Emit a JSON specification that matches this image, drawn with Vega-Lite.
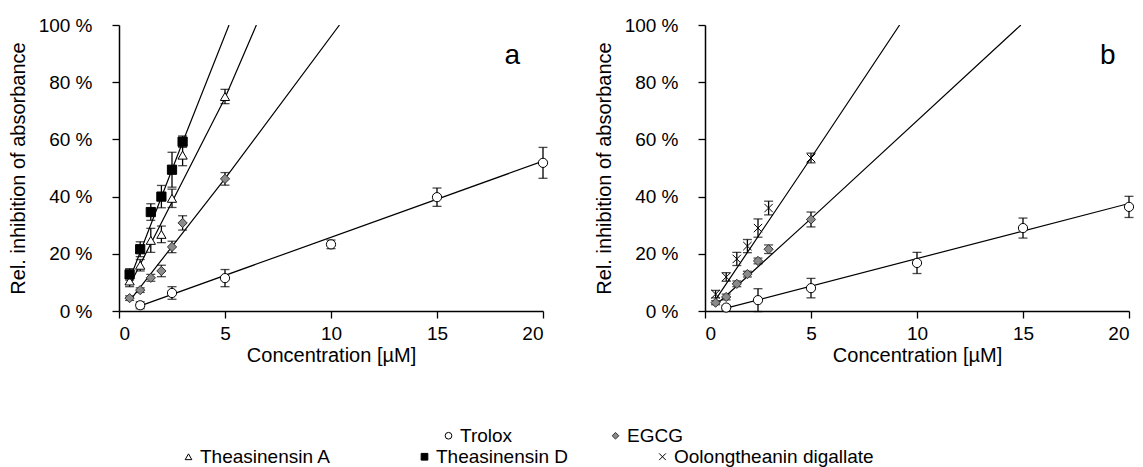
{
  "$schema": "https://vega.github.io/schema/vega-lite/v6.json",
  "background": "white",
  "padding": {"left": 8, "top": 16, "right": 5, "bottom": 0},
  "bounds": "flush",
  "spacing": 162,
  "config": {
    "font": "Liberation Sans",
    "view": {"stroke": null},
    "axis": {
      "grid": false,
      "domainColor": "black",
      "domainWidth": 1.5,
      "tickColor": "black",
      "tickWidth": 1.3,
      "tickSize": 7,
      "labelColor": "black",
      "titleColor": "black",
      "labelFontSize": 19,
      "titleFontSize": 20,
      "titleFontWeight": "normal",
      "labelFont": "Liberation Sans",
      "titleFont": "Liberation Sans"
    },
    "legend": {
      "labelFontSize": 19,
      "labelColor": "black",
      "labelFont": "Liberation Sans",
      "labelLimit": 400,
      "symbolStrokeColor": "black",
      "symbolStrokeWidth": 1,
      "symbolSize": 45,
      "labelOffset": 2,
      "padding": 0,
      "rowPadding": 0
    }
  },
  "datasets": {
    "pts_a": [
      {"compound": "Trolox", "x": 1, "y": 2, "err": 1.2},
      {"compound": "Trolox", "x": 2.5, "y": 6.3, "err": 2.2},
      {"compound": "Trolox", "x": 5, "y": 11.5, "err": 3},
      {"compound": "Trolox", "x": 10, "y": 23.3, "err": 1.5},
      {"compound": "Trolox", "x": 15, "y": 39.8, "err": 3.2},
      {"compound": "Trolox", "x": 20, "y": 51.8, "err": 5.4},
      {"compound": "EGCG", "x": 0.5, "y": 4.5, "err": 0.8},
      {"compound": "EGCG", "x": 1, "y": 7.3, "err": 0.8},
      {"compound": "EGCG", "x": 1.5, "y": 11.6, "err": 1.2},
      {"compound": "EGCG", "x": 2, "y": 14, "err": 2},
      {"compound": "EGCG", "x": 2.5, "y": 22.4, "err": 2},
      {"compound": "EGCG", "x": 3, "y": 30.8, "err": 2.5},
      {"compound": "EGCG", "x": 5, "y": 46.2, "err": 2.2},
      {"compound": "Theasinensin A", "x": 0.5, "y": 10.5, "err": 2},
      {"compound": "Theasinensin A", "x": 1, "y": 16, "err": 2},
      {"compound": "Theasinensin A", "x": 1.5, "y": 24.7, "err": 4.2},
      {"compound": "Theasinensin A", "x": 2, "y": 26.8, "err": 2.9},
      {"compound": "Theasinensin A", "x": 2.5, "y": 39.4, "err": 3.2},
      {"compound": "Theasinensin A", "x": 3, "y": 54.5, "err": 3.7},
      {"compound": "Theasinensin A", "x": 5, "y": 75, "err": 2.5},
      {"compound": "Theasinensin D", "x": 0.5, "y": 12.8, "err": 2},
      {"compound": "Theasinensin D", "x": 1, "y": 21.6, "err": 2.6},
      {"compound": "Theasinensin D", "x": 1.5, "y": 34.6, "err": 2.9},
      {"compound": "Theasinensin D", "x": 2, "y": 40, "err": 3.9},
      {"compound": "Theasinensin D", "x": 2.5, "y": 49.4, "err": 6.1},
      {"compound": "Theasinensin D", "x": 3, "y": 59.2, "err": 2}
    ],
    "pts_b": [
      {"compound": "Oolongtheanin digallate", "x": 0.5, "y": 5.9, "err": 1.3},
      {"compound": "Oolongtheanin digallate", "x": 1, "y": 11.9, "err": 1.5},
      {"compound": "Oolongtheanin digallate", "x": 1.5, "y": 18.2, "err": 2.3},
      {"compound": "Oolongtheanin digallate", "x": 2, "y": 22.7, "err": 2.3},
      {"compound": "Oolongtheanin digallate", "x": 2.5, "y": 29, "err": 3.2},
      {"compound": "Oolongtheanin digallate", "x": 3, "y": 36, "err": 2.4},
      {"compound": "Oolongtheanin digallate", "x": 5, "y": 53.5, "err": 1.7},
      {"compound": "EGCG", "x": 0.5, "y": 2.9, "err": 0.7},
      {"compound": "EGCG", "x": 1, "y": 4.9, "err": 1},
      {"compound": "EGCG", "x": 1.5, "y": 9.5, "err": 1},
      {"compound": "EGCG", "x": 2, "y": 12.9, "err": 1},
      {"compound": "EGCG", "x": 2.5, "y": 17.5, "err": 1},
      {"compound": "EGCG", "x": 3, "y": 21.6, "err": 1.5},
      {"compound": "EGCG", "x": 5, "y": 32, "err": 2.6},
      {"compound": "Trolox", "x": 1, "y": 1.2, "err": 0.8},
      {"compound": "Trolox", "x": 2.5, "y": 3.8, "err": 4},
      {"compound": "Trolox", "x": 5, "y": 8, "err": 3.4},
      {"compound": "Trolox", "x": 10, "y": 16.8, "err": 3.7},
      {"compound": "Trolox", "x": 15, "y": 29, "err": 3.5},
      {"compound": "Trolox", "x": 20, "y": 36.4, "err": 3.7}
    ],
    "lines_a": [
      {"compound": "Trolox", "x": 1, "y": 1.8},
      {"compound": "Trolox", "x": 20, "y": 52.4},
      {"compound": "EGCG", "x": 0.5, "y": 3.5},
      {"compound": "EGCG", "x": 5, "y": 46.3},
      {"compound": "EGCG", "x": 10.4, "y": 100},
      {"compound": "Theasinensin A", "x": 0.5, "y": 9},
      {"compound": "Theasinensin A", "x": 5, "y": 74.5},
      {"compound": "Theasinensin A", "x": 6.48, "y": 100},
      {"compound": "Theasinensin D", "x": 0.5, "y": 11},
      {"compound": "Theasinensin D", "x": 3, "y": 59},
      {"compound": "Theasinensin D", "x": 5.19, "y": 100}
    ],
    "lines_b": [
      {"compound": "Oolongtheanin digallate", "x": 0.5, "y": 4},
      {"compound": "Oolongtheanin digallate", "x": 5, "y": 53.5},
      {"compound": "Oolongtheanin digallate", "x": 9.18, "y": 100},
      {"compound": "EGCG", "x": 0.5, "y": 2},
      {"compound": "EGCG", "x": 5, "y": 32.3},
      {"compound": "EGCG", "x": 14.9, "y": 100},
      {"compound": "Trolox", "x": 1, "y": 1},
      {"compound": "Trolox", "x": 20, "y": 37.6}
    ]
  },
  "resolve": {"scale": {"shape": "independent", "fill": "independent", "stroke": "independent"}, "legend": {"shape": "independent", "fill": "independent", "stroke": "independent"}},
  "hconcat": [
    {
      "width": 424,
      "height": 286,
      "resolve": {"scale": {"shape": "independent", "fill": "independent", "stroke": "independent"}, "legend": {"shape": "independent", "fill": "independent", "stroke": "independent"}},
      "layer": [
        {
          "data": {"name": "lines_a"},
          "mark": {"type": "line", "color": "black", "strokeWidth": 1.2, "clip": true},
          "encoding": {
            "x": {"field": "x", "type": "quantitative", "title": "Concentration [µM]", "scale": {"domain": [0, 20], "nice": false}, "axis": {"values": [0, 5, 10, 15, 20], "title": "Concentration [µM]", "labelPadding": 6, "titlePadding": 2}},
            "y": {"field": "y", "type": "quantitative", "title": "Rel. inhibition of absorbance", "scale": {"domain": [0, 100], "nice": false}, "axis": {"values": [0, 20, 40, 60, 80, 100], "labelExpr": "datum.value + ' %'", "title": "Rel. inhibition of absorbance", "labelPadding": 20, "titlePadding": 10}},
            "detail": {"field": "compound"}
          }
        },
        {
          "data": {"name": "pts_a"},
          "mark": {"type": "errorbar", "ticks": {"size": 9}, "color": "black", "thickness": 1.3},
          "encoding": {
            "x": {"field": "x", "type": "quantitative", "title": "Concentration [µM]"},
            "y": {"field": "y", "type": "quantitative", "title": "Rel. inhibition of absorbance"},
            "yError": {"field": "err"}
          }
        },
        {
          "data": {"name": "pts_a"},
          "transform": [{"filter": {"field": "compound", "oneOf": ["Trolox", "EGCG"]}}],
          "mark": {"type": "point", "filled": true, "strokeWidth": 1, "size": 85, "opacity": 1},
          "encoding": {
            "x": {"field": "x", "type": "quantitative", "title": "Concentration [µM]"},
            "y": {"field": "y", "type": "quantitative", "title": "Rel. inhibition of absorbance"},
            "shape": {"field": "compound", "type": "nominal", "scale": {"domain": ["Trolox", "EGCG"], "range": ["circle", "diamond"]},
              "legend": {"title": null, "orient": "none", "direction": "horizontal", "legendX": 320, "legendY": 401, "columnPadding": 93}},
            "fill": {"field": "compound", "type": "nominal", "scale": {"domain": ["Trolox", "EGCG"], "range": ["white", "#8a8a8a"]},
              "legend": {"title": null, "orient": "none", "direction": "horizontal", "legendX": 320, "legendY": 401, "columnPadding": 93}},
            "stroke": {"field": "compound", "type": "nominal", "scale": {"domain": ["Trolox", "EGCG"], "range": ["black", "#333333"]},
              "legend": {"title": null, "orient": "none", "direction": "horizontal", "legendX": 320, "legendY": 401, "columnPadding": 93}}
          }
        },
        {
          "data": {"name": "pts_a"},
          "transform": [{"filter": {"field": "compound", "oneOf": ["Theasinensin A", "Theasinensin D"]}}],
          "mark": {"type": "point", "filled": true, "strokeWidth": 1, "size": 85, "opacity": 1},
          "encoding": {
            "x": {"field": "x", "type": "quantitative", "title": "Concentration [µM]"},
            "y": {"field": "y", "type": "quantitative", "title": "Rel. inhibition of absorbance"},
            "shape": {"field": "compound", "type": "nominal", "scale": {"domain": ["Theasinensin A", "Theasinensin D", "Oolongtheanin digallate"], "range": ["triangle-up", "square", "M-1,-1L1,1M-1,1L1,-1"]},
              "legend": {"title": null, "orient": "none", "direction": "horizontal", "legendX": 60, "legendY": 422, "columnPadding": 84}},
            "fill": {"field": "compound", "type": "nominal", "scale": {"domain": ["Theasinensin A", "Theasinensin D", "Oolongtheanin digallate"], "range": ["white", "black", "transparent"]},
              "legend": {"title": null, "orient": "none", "direction": "horizontal", "legendX": 60, "legendY": 422, "columnPadding": 84}},
            "stroke": {"field": "compound", "type": "nominal", "scale": {"domain": ["Theasinensin A", "Theasinensin D", "Oolongtheanin digallate"], "range": ["black", "black", "black"]},
              "legend": {"title": null, "orient": "none", "direction": "horizontal", "legendX": 60, "legendY": 422, "columnPadding": 84}}
          }
        },
        {
          "data": {"values": [{"label": "a"}]},
          "mark": {"type": "text", "fontSize": 28, "font": "Liberation Sans", "color": "black", "baseline": "alphabetic", "align": "center"},
          "encoding": {"x": {"datum": 18.55, "type": "quantitative"}, "y": {"datum": 86.4, "type": "quantitative"}, "text": {"field": "label"}}
        }
      ]
    },
    {
      "width": 424,
      "height": 286,
      "resolve": {"scale": {"shape": "independent", "fill": "independent", "stroke": "independent"}, "legend": {"shape": "independent", "fill": "independent", "stroke": "independent"}},
      "layer": [
        {
          "data": {"name": "lines_b"},
          "mark": {"type": "line", "color": "black", "strokeWidth": 1.2, "clip": true},
          "encoding": {
            "x": {"field": "x", "type": "quantitative", "title": "Concentration [µM]", "scale": {"domain": [0, 20], "nice": false}, "axis": {"values": [0, 5, 10, 15, 20], "title": "Concentration [µM]", "labelPadding": 6, "titlePadding": 2}},
            "y": {"field": "y", "type": "quantitative", "title": "Rel. inhibition of absorbance", "scale": {"domain": [0, 100], "nice": false}, "axis": {"values": [0, 20, 40, 60, 80, 100], "labelExpr": "datum.value + ' %'", "title": "Rel. inhibition of absorbance", "labelPadding": 20, "titlePadding": 10}},
            "detail": {"field": "compound"}
          }
        },
        {
          "data": {"name": "pts_b"},
          "mark": {"type": "errorbar", "ticks": {"size": 9}, "color": "black", "thickness": 1.3},
          "encoding": {
            "x": {"field": "x", "type": "quantitative", "title": "Concentration [µM]"},
            "y": {"field": "y", "type": "quantitative", "title": "Rel. inhibition of absorbance"},
            "yError": {"field": "err"}
          }
        },
        {
          "data": {"name": "pts_b"},
          "transform": [{"filter": {"field": "compound", "oneOf": ["Trolox", "EGCG"]}}],
          "mark": {"type": "point", "filled": true, "strokeWidth": 1, "size": 85, "opacity": 1},
          "encoding": {
            "x": {"field": "x", "type": "quantitative", "title": "Concentration [µM]"},
            "y": {"field": "y", "type": "quantitative", "title": "Rel. inhibition of absorbance"},
            "shape": {"field": "compound", "type": "nominal", "scale": {"domain": ["Trolox", "EGCG"], "range": ["circle", "diamond"]}, "legend": null},
            "fill": {"field": "compound", "type": "nominal", "scale": {"domain": ["Trolox", "EGCG"], "range": ["white", "#8a8a8a"]}, "legend": null},
            "stroke": {"field": "compound", "type": "nominal", "scale": {"domain": ["Trolox", "EGCG"], "range": ["black", "#333333"]}, "legend": null}
          }
        },
        {
          "data": {"name": "pts_b"},
          "transform": [{"filter": {"field": "compound", "oneOf": ["Oolongtheanin digallate"]}}],
          "mark": {"type": "point", "filled": true, "strokeWidth": 1, "size": 70, "opacity": 1},
          "encoding": {
            "x": {"field": "x", "type": "quantitative", "title": "Concentration [µM]"},
            "y": {"field": "y", "type": "quantitative", "title": "Rel. inhibition of absorbance"},
            "shape": {"field": "compound", "type": "nominal", "scale": {"domain": ["Theasinensin A", "Theasinensin D", "Oolongtheanin digallate"], "range": ["triangle-up", "square", "M-1,-1L1,1M-1,1L1,-1"]}, "legend": null},
            "fill": {"field": "compound", "type": "nominal", "scale": {"domain": ["Theasinensin A", "Theasinensin D", "Oolongtheanin digallate"], "range": ["white", "black", "transparent"]}, "legend": null},
            "stroke": {"field": "compound", "type": "nominal", "scale": {"domain": ["Theasinensin A", "Theasinensin D", "Oolongtheanin digallate"], "range": ["black", "black", "black"]}, "legend": null}
          }
        },
        {
          "data": {"values": [{"label": "b"}]},
          "mark": {"type": "text", "fontSize": 28, "font": "Liberation Sans", "color": "black", "baseline": "alphabetic", "align": "center"},
          "encoding": {"x": {"datum": 19.0, "type": "quantitative"}, "y": {"datum": 86.4, "type": "quantitative"}, "text": {"field": "label"}}
        }
      ]
    }
  ]
}
